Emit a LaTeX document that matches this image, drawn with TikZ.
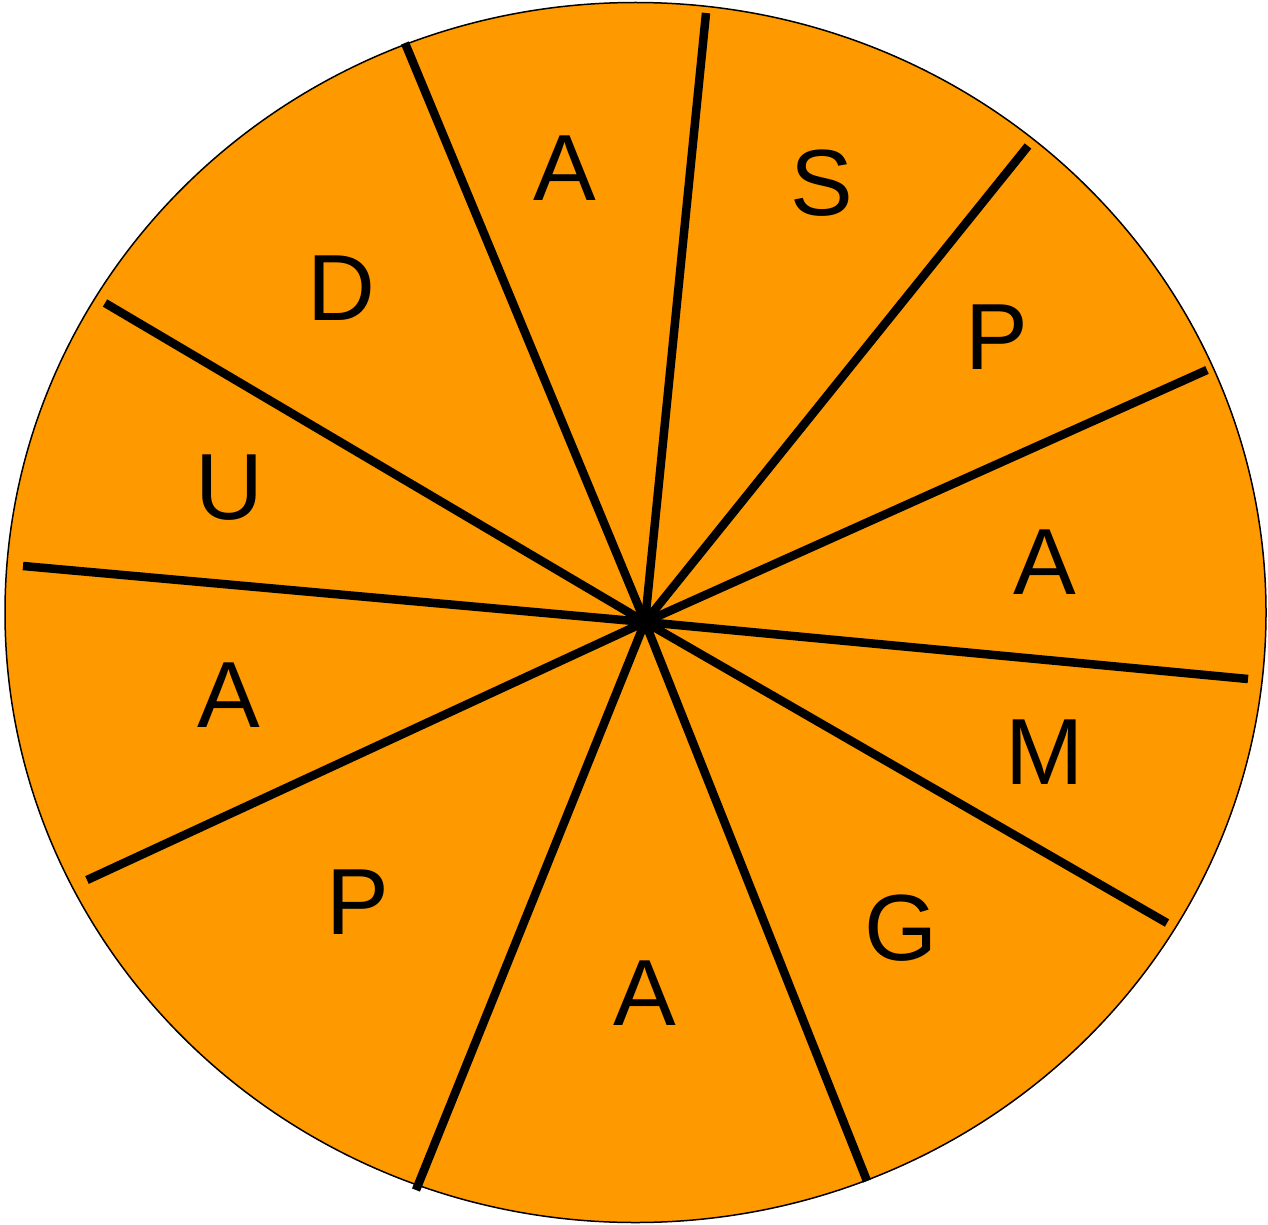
\documentclass[tikz,border=0pt]{standalone}
\usepackage{fontspec}
\setmainfont{Liberation Sans}
\usetikzlibrary{shapes.geometric}
\definecolor{pie}{RGB}{255,153,0}
\begin{document}
\begin{tikzpicture}[x=1pt,y=-1pt,
  spoke/.style={line width=8.5pt},
  lett/.style={font=\fontsize{94}{94}\selectfont, inner sep=0pt, anchor=center}]
\useasboundingbox (0,0) rectangle (1268,1225);
\node[ellipse, draw, line width=1.5pt, fill=pie, minimum width=1261pt, minimum height=1220pt, inner sep=0pt] (disc) at (635.5,612.5) {};
\coordinate (c) at (645,622);
\foreach \i/\x/\y in {1/405/43,2/706/13,3/1028/146,4/1207/370,5/1248/679,6/1167/923,7/867/1181,8/416/1190,9/87/880,10/23/566,11/105/303}{
  \coordinate (e\i) at (\x,\y);
  \draw[spoke] (c) -- (e\i);
}
\node[lett] (l1) at (565,168) {A};
\node[lett] (l2) at (822,183) {S};
\node[lett] (l3) at (997,337) {P};
\node[lett] (l4) at (1045,562) {A};
\node[lett] (l5) at (1045,752) {M};
\node[lett] (l6) at (901,928) {G};
\node[lett] (l7) at (645,993) {A};
\node[lett] (l8) at (358,902) {P};
\node[lett] (l9) at (229,695) {A};
\node[lett] (l10) at (229,488) {U};
\node[lett] (l11) at (341,288) {D};
\end{tikzpicture}
\end{document}
